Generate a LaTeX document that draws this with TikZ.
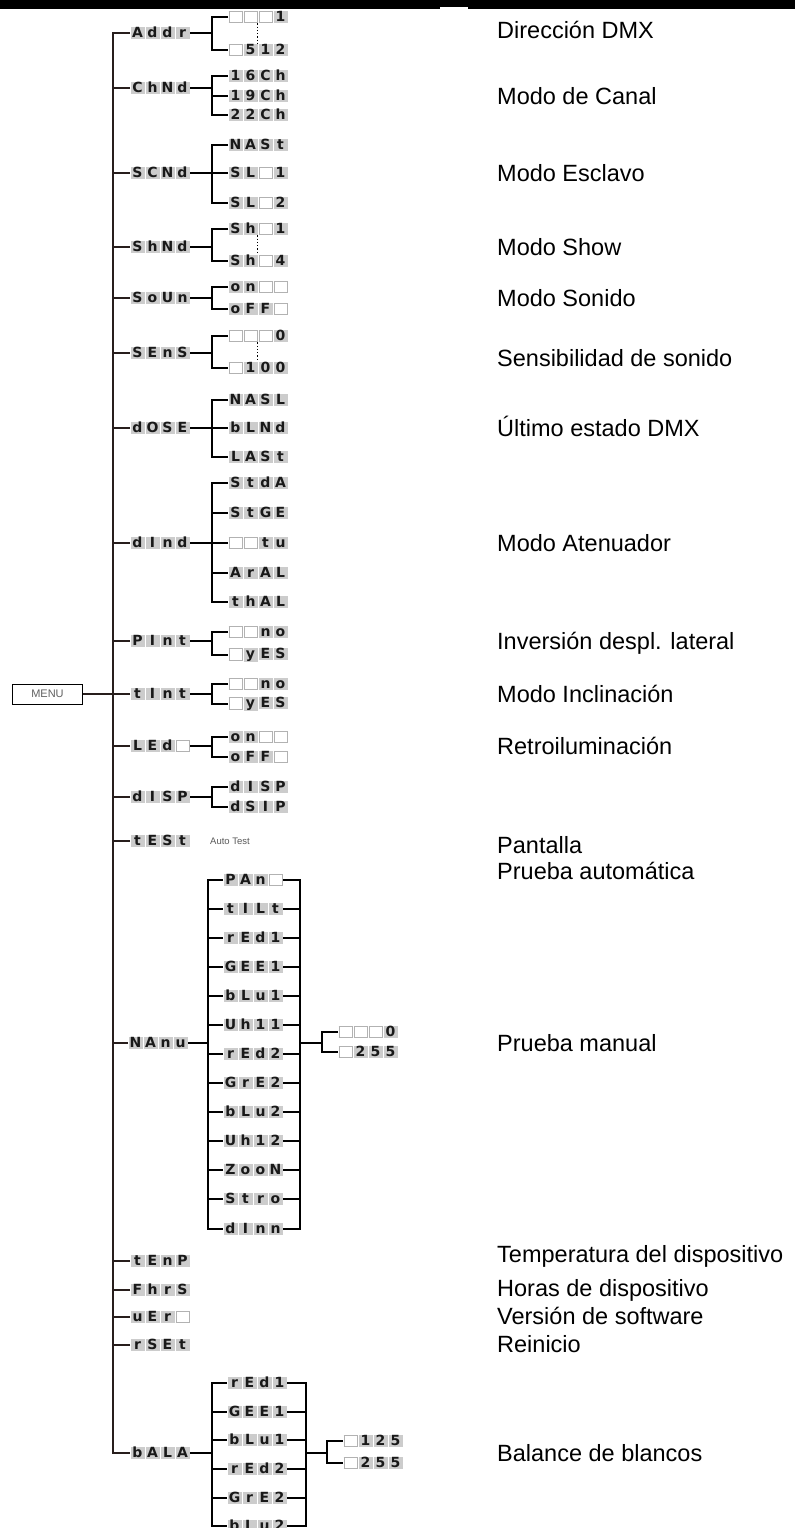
\documentclass[tikz,border=0pt]{standalone}
\usepackage{fontspec}
\setmainfont{Liberation Sans}
\newfontfamily\lcdf{DejaVu Sans}
\usetikzlibrary{calc}
\definecolor{lcdbg}{gray}{0.80}
\definecolor{lcdln}{gray}{0.70}
\definecolor{lcdtx}{gray}{0.10}
\definecolor{spinec}{RGB}{40,30,28}
\newcommand{\lc}[1]{\kern0.5pt{\setlength{\fboxsep}{0pt}\colorbox{lcdbg}{\makebox[14pt][c]{\rule[-1.5pt]{0pt}{12.5pt}\lcdf\bfseries\fontsize{14}{14}\selectfont\color{lcdtx}#1}}}\kern0.5pt}
\newcommand{\lb}{\kern0.5pt{\setlength{\fboxsep}{0pt}\setlength{\fboxrule}{0.8pt}\fcolorbox{lcdln}{white}{\makebox[12.4pt]{\rule[-0.7pt]{0pt}{10.9pt}}}}\kern0.5pt}
\newcommand{\brk}[4]{%
  \draw[conn] (#1.east) -- (#1.east -| #4);
  \draw[conn] (#2.west) -- (#2.west -| #4) -- (#3.west -| #4) -- (#3.west);}
\newcommand{\midbr}[2]{\draw[conn] (#1.west) -- (#1.west -| #2);}
\begin{document}
\begin{tikzpicture}[x=1pt,y=1pt,
  lcd/.style={inner sep=0pt, outer sep=0pt, anchor=west},
  conn/.style={line width=1.6pt, black},
  spinel/.style={line width=1.3pt, spinec},
  desc/.style={inner sep=0pt, anchor=base west, font=\fontsize{23.5}{26}\selectfont, text=black}]
\useasboundingbox (0,0) rectangle (795,-1528);
\fill[white] (0,0) rectangle (795,-1528);
\fill[black] (0,0) rectangle (795,-9.3);
\fill[white] (440,-7.3) rectangle (468,-9.5);

\coordinate (sp) at (113,0);
\coordinate (bx) at (212,0);
\coordinate (mlx) at (208,0);
\coordinate (mrx) at (300,0);
\coordinate (mvx) at (322,0);
\coordinate (brx) at (306,0);
\coordinate (bvx) at (327,0);

% MENU
\node[draw=black, line width=1pt, minimum width=70pt, minimum height=20pt, inner sep=0pt,
  font=\fontsize{11}{12}\selectfont, text=gray!75!black, anchor=west] (menu) at (12,-694) {MENU};

% level 1
\node[lcd] (addr) at (130,-33) {\lc{A}\lc{d}\lc{d}\lc{r}};
\node[lcd] (chnd) at (130,-88) {\lc{C}\lc{h}\lc{N}\lc{d}};
\node[lcd] (scnd) at (130,-173) {\lc{S}\lc{C}\lc{N}\lc{d}};
\node[lcd] (shnd) at (130,-247) {\lc{S}\lc{h}\lc{N}\lc{d}};
\node[lcd] (soun) at (130,-298) {\lc{S}\lc{o}\lc{U}\lc{n}};
\node[lcd] (sens) at (130,-353) {\lc{S}\lc{E}\lc{n}\lc{S}};
\node[lcd] (dose) at (130,-428) {\lc{d}\lc{O}\lc{S}\lc{E}};
\node[lcd] (dind) at (130,-543) {\lc{d}\lc{I}\lc{n}\lc{d}};
\node[lcd] (pint) at (130,-641) {\lc{P}\lc{I}\lc{n}\lc{t}};
\node[lcd] (tint) at (130,-694) {\lc{t}\lc{I}\lc{n}\lc{t}};
\node[lcd] (led) at (130,-746) {\lc{L}\lc{E}\lc{d}\lb};
\node[lcd] (disp) at (130,-797) {\lc{d}\lc{I}\lc{S}\lc{P}};
\node[lcd] (test) at (130,-841) {\lc{t}\lc{E}\lc{S}\lc{t}};
\node[lcd] (manu) at (128,-1043) {\lc{N}\lc{A}\lc{n}\lc{u}};
\node[lcd] (tenp) at (130,-1261) {\lc{t}\lc{E}\lc{n}\lc{P}};
\node[lcd] (fhrs) at (130,-1290) {\lc{F}\lc{h}\lc{r}\lc{S}};
\node[lcd] (uer) at (130,-1317) {\lc{u}\lc{E}\lc{r}\lb};
\node[lcd] (rset) at (130,-1345) {\lc{r}\lc{S}\lc{E}\lc{t}};
\node[lcd] (bala) at (130,-1453) {\lc{b}\lc{A}\lc{L}\lc{A}};

\node[inner sep=0pt, anchor=west, font=\fontsize{9.5}{10}\selectfont, text=gray!70!black] (autotest) at (210,-841) {Auto Test};

% spine
\draw[spinel] (addr.west) -- (addr.west -| sp) -- (bala.west -| sp) -- (bala.west);
\draw[spinel] (menu.east) -- (menu.east -| sp);
\foreach \n in {chnd,scnd,shnd,soun,sens,dose,dind,pint,tint,led,disp,test,manu,tenp,fhrs,uer,rset}
  \draw[spinel] (\n.west) -- (\n.west -| sp);

% level 2
\node[lcd] (a1) at (228,-17) {\lb\lb\lb\lc{1}};
\node[lcd] (a2) at (228,-50) {\lb\lc{5}\lc{1}\lc{2}};
\node[lcd] (c1) at (228,-76) {\lc{1}\lc{6}\lc{C}\lc{h}};
\node[lcd] (c2) at (228,-96) {\lc{1}\lc{9}\lc{C}\lc{h}};
\node[lcd] (c3) at (228,-115) {\lc{2}\lc{2}\lc{C}\lc{h}};
\node[lcd] (s1) at (228,-145) {\lc{N}\lc{A}\lc{S}\lc{t}};
\node[lcd] (s2) at (228,-173) {\lc{S}\lc{L}\lb\lc{1}};
\node[lcd] (s3) at (228,-203) {\lc{S}\lc{L}\lb\lc{2}};
\node[lcd] (h1) at (228,-229) {\lc{S}\lc{h}\lb\lc{1}};
\node[lcd] (h2) at (228,-261) {\lc{S}\lc{h}\lb\lc{4}};
\node[lcd] (o1) at (228,-287) {\lc{o}\lc{n}\lb\lb};
\node[lcd] (o2) at (228,-309) {\lc{o}\lc{F}\lc{F}\lb};
\node[lcd] (e1) at (228,-336) {\lb\lb\lb\lc{0}};
\node[lcd] (e2) at (228,-368) {\lb\lc{1}\lc{0}\lc{0}};
\node[lcd] (d1) at (228,-400) {\lc{N}\lc{A}\lc{S}\lc{L}};
\node[lcd] (d2) at (228,-428) {\lc{b}\lc{L}\lc{N}\lc{d}};
\node[lcd] (d3) at (228,-457) {\lc{L}\lc{A}\lc{S}\lc{t}};
\node[lcd] (m1) at (228,-483) {\lc{S}\lc{t}\lc{d}\lc{A}};
\node[lcd] (m2) at (228,-513) {\lc{S}\lc{t}\lc{G}\lc{E}};
\node[lcd] (m3) at (228,-543) {\lb\lb\lc{t}\lc{u}};
\node[lcd] (m4) at (228,-573) {\lc{A}\lc{r}\lc{A}\lc{L}};
\node[lcd] (m5) at (228,-602) {\lc{t}\lc{h}\lc{A}\lc{L}};
\node[lcd] (p1) at (228,-632) {\lb\lb\lc{n}\lc{o}};
\node[lcd] (p2) at (228,-655) {\lb\lc{y}\lc{E}\lc{S}};
\node[lcd] (t1) at (228,-684) {\lb\lb\lc{n}\lc{o}};
\node[lcd] (t2) at (228,-704) {\lb\lc{y}\lc{E}\lc{S}};
\node[lcd] (l1) at (228,-737) {\lc{o}\lc{n}\lb\lb};
\node[lcd] (l2) at (228,-757) {\lc{o}\lc{F}\lc{F}\lb};
\node[lcd] (q1) at (228,-787) {\lc{d}\lc{I}\lc{S}\lc{P}};
\node[lcd] (q2) at (228,-807) {\lc{d}\lc{S}\lc{I}\lc{P}};

\brk{addr}{a1}{a2}{bx}
\brk{chnd}{c1}{c3}{bx} \midbr{c2}{bx}
\brk{scnd}{s1}{s3}{bx} \midbr{s2}{bx}
\brk{shnd}{h1}{h2}{bx}
\brk{soun}{o1}{o2}{bx}
\brk{sens}{e1}{e2}{bx}
\brk{dose}{d1}{d3}{bx} \midbr{d2}{bx}
\brk{dind}{m1}{m5}{bx} \midbr{m2}{bx} \midbr{m3}{bx} \midbr{m4}{bx}
\brk{pint}{p1}{p2}{bx}
\brk{tint}{t1}{t2}{bx}
\brk{led}{l1}{l2}{bx}
\brk{disp}{q1}{q2}{bx}

\draw[line width=1.3pt, dotted] ($(a1.south west)+(29.5,0)$) -- ($(a2.north west)+(29.5,0)$);
\draw[line width=1.3pt, dotted] ($(h1.south west)+(29.5,0)$) -- ($(h2.north west)+(29.5,0)$);
\draw[line width=1.3pt, dotted] ($(e1.south west)+(29.5,0)$) -- ($(e2.north west)+(29.5,0)$);

% manual test
\node[lcd] (k1) at (223,-880) {\lc{P}\lc{A}\lc{n}\lb};
\node[lcd] (k2) at (223,-909) {\lc{t}\lc{I}\lc{L}\lc{t}};
\node[lcd] (k3) at (223,-938) {\lc{r}\lc{E}\lc{d}\lc{1}};
\node[lcd] (k4) at (223,-967) {\lc{G}\lc{E}\lc{E}\lc{1}};
\node[lcd] (k5) at (223,-996) {\lc{b}\lc{L}\lc{u}\lc{1}};
\node[lcd] (k6) at (223,-1025) {\lc{U}\lc{h}\lc{1}\lc{1}};
\node[lcd] (k7) at (223,-1054) {\lc{r}\lc{E}\lc{d}\lc{2}};
\node[lcd] (k8) at (223,-1083) {\lc{G}\lc{r}\lc{E}\lc{2}};
\node[lcd] (k9) at (223,-1112) {\lc{b}\lc{L}\lc{u}\lc{2}};
\node[lcd] (k10) at (223,-1141) {\lc{U}\lc{h}\lc{1}\lc{2}};
\node[lcd] (k11) at (223,-1170) {\lc{Z}\lc{o}\lc{o}\lc{N}};
\node[lcd] (k12) at (223,-1199) {\lc{S}\lc{t}\lc{r}\lc{o}};
\node[lcd] (k13) at (223,-1229) {\lc{d}\lc{I}\lc{n}\lc{n}};
\draw[conn] (manu.east) -- (manu.east -| mlx);
\draw[conn] (k1.west) -- (k1.west -| mlx) -- (k13.west -| mlx) -- (k13.west);
\draw[conn] (k1.east) -- (k1.east -| mrx) -- (k13.east -| mrx) -- (k13.east);
\foreach \n in {k2,k3,k4,k5,k6,k7,k8,k9,k10,k11,k12} {
  \draw[conn] (\n.west) -- (\n.west -| mlx);
  \draw[conn] (\n.east) -- (\n.east -| mrx);
}
\node[lcd] (v1) at (338,-1032) {\lb\lb\lb\lc{0}};
\node[lcd] (v2) at (338,-1052) {\lb\lc{2}\lc{5}\lc{5}};
\draw[conn] (manu.east -| mrx) -- (manu.east -| mvx);
\draw[conn] (v1.west) -- (v1.west -| mvx) -- (v2.west -| mvx) -- (v2.west);

% white balance
\node[lcd] (w1) at (227,-1383) {\lc{r}\lc{E}\lc{d}\lc{1}};
\node[lcd] (w2) at (227,-1412) {\lc{G}\lc{E}\lc{E}\lc{1}};
\node[lcd] (w3) at (227,-1440) {\lc{b}\lc{L}\lc{u}\lc{1}};
\node[lcd] (w4) at (227,-1469) {\lc{r}\lc{E}\lc{d}\lc{2}};
\node[lcd] (w5) at (227,-1498) {\lc{G}\lc{r}\lc{E}\lc{2}};
\node[lcd] (w6) at (227,-1526) {\lc{b}\lc{L}\lc{u}\lc{2}};
\draw[conn] (bala.east) -- (bala.east -| bx);
\draw[conn] (w1.west) -- (w1.west -| bx) -- (w6.west -| bx) -- (w6.west);
\draw[conn] (w1.east) -- (w1.east -| brx) -- (w6.east -| brx) -- (w6.east);
\foreach \n in {w2,w3,w4,w5} {
  \draw[conn] (\n.west) -- (\n.west -| bx);
  \draw[conn] (\n.east) -- (\n.east -| brx);
}
\node[lcd] (x1) at (343,-1441) {\lb\lc{1}\lc{2}\lc{5}};
\node[lcd] (x2) at (343,-1463) {\lb\lc{2}\lc{5}\lc{5}};
\draw[conn] (bala.east -| brx) -- (bala.east -| bvx);
\draw[conn] (x1.west) -- (x1.west -| bvx) -- (x2.west -| bvx) -- (x2.west);

% descriptions
\node[desc] (t01) at (497,-38) {Dirección DMX};
\node[desc] (t02) at (497,-104) {Modo de Canal};
\node[desc] (t03) at (497,-181) {Modo Esclavo};
\node[desc] (t04) at (497,-255) {Modo Show};
\node[desc] (t05) at (497,-306) {Modo Sonido};
\node[desc] (t06) at (497,-366) {Sensibilidad de sonido};
\node[desc] (t07) at (497,-436) {Último estado DMX};
\node[desc] (t08) at (497,-551) {Modo Atenuador};
\node[desc] (t09) at (497,-649) {Inversión despl. lateral};
\node[desc] (t10) at (497,-702) {Modo Inclinación};
\node[desc] (t11) at (497,-754) {Retroiluminación};
\node[desc] (t12) at (497,-853) {Pantalla};
\node[desc] (t13) at (497,-879) {Prueba automática};
\node[desc] (t14) at (497,-1051) {Prueba manual};
\node[desc] (t15) at (497,-1262) {Temperatura del dispositivo};
\node[desc] (t16) at (497,-1296) {Horas de dispositivo};
\node[desc] (t17) at (497,-1324) {Versión de software};
\node[desc] (t18) at (497,-1352) {Reinicio};
\node[desc] (t19) at (497,-1461) {Balance de blancos};
\end{tikzpicture}
\end{document}
